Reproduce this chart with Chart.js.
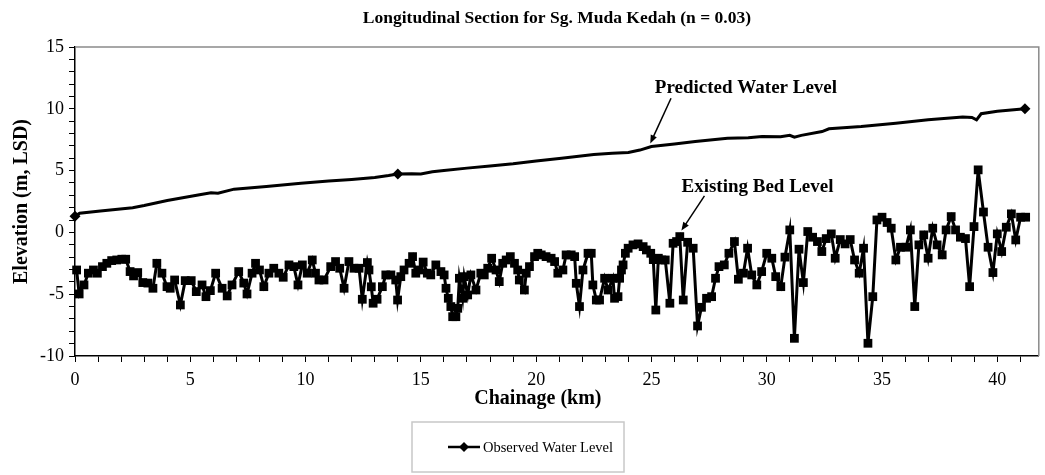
<!DOCTYPE html>
<html>
<head>
<meta charset="utf-8">
<title>Longitudinal Section for Sg. Muda Kedah</title>
<script src="https://cdn.jsdelivr.net/npm/chart.js@4.4.1/dist/chart.umd.min.js"></script>
<style>
  html, body { margin: 0; padding: 0; background: #ffffff; }
  #wrap { width: 1045px; height: 475px; }
</style>
</head>
<body>
<div id="wrap"><canvas id="chart" width="1045" height="475"></canvas></div>
<script>
// Surveyed river bed (chainage in km, elevation in m LSD)
const bedChainage = [
  0.07, 0.18, 0.39, 0.58, 0.80, 0.97, 1.19, 1.38, 1.59, 1.81, 2.03, 2.20, 2.39, 2.54, 2.72, 2.94,
  3.16, 3.38, 3.55, 3.77, 3.99, 4.13, 4.32, 4.57, 4.78, 5.04, 5.26, 5.51, 5.68, 5.87, 6.10, 6.38,
  6.60, 6.81, 7.10, 7.32, 7.46, 7.68, 7.83, 8.00, 8.19, 8.41, 8.62, 8.84, 9.03, 9.28, 9.49, 9.67,
  9.86, 10.07, 10.29, 10.43, 10.58, 10.80, 11.09, 11.30, 11.48, 11.67, 11.88, 12.10, 12.32, 12.46,
  12.68, 12.75, 12.85, 12.93, 13.10, 13.33, 13.48, 13.70, 13.91, 13.99, 14.13, 14.27, 14.49, 14.64,
  14.78, 14.93, 15.10, 15.28, 15.43, 15.65, 15.87, 16.01, 16.09, 16.19, 16.30, 16.38, 16.52, 16.60,
  16.67, 16.81, 16.88, 17.03, 17.17, 17.39, 17.60, 17.75, 17.90, 18.07, 18.26, 18.40, 18.55, 18.70,
  18.88, 19.06, 19.20, 19.27, 19.49, 19.57, 19.71, 19.93, 20.07, 20.22, 20.43, 20.65, 20.80, 20.94,
  21.16, 21.30, 21.52, 21.67, 21.74, 21.88, 22.03, 22.25, 22.39, 22.46, 22.61, 22.75, 22.97, 23.12,
  23.33, 23.40, 23.55, 23.62, 23.70, 23.77, 23.87, 23.99, 24.20, 24.42, 24.64, 24.78, 24.97, 25.08,
  25.19, 25.30, 25.45, 25.60, 25.80, 25.94, 26.09, 26.23, 26.38, 26.57, 26.81, 27.00, 27.17, 27.39,
  27.61, 27.78, 27.93, 28.16, 28.36, 28.60, 28.77, 28.99, 29.17, 29.35, 29.57, 29.78, 30.00, 30.22,
  30.39, 30.61, 30.79, 31.00, 31.20, 31.40, 31.59, 31.78, 31.99, 32.20, 32.39, 32.58, 32.80, 32.97,
  33.19, 33.40, 33.62, 33.81, 34.01, 34.20, 34.39, 34.60, 34.78, 35.00, 35.22, 35.40, 35.60, 35.80,
  36.04, 36.23, 36.42, 36.60, 36.81, 37.00, 37.20, 37.39, 37.61, 37.78, 38.00, 38.19, 38.40, 38.62,
  38.80, 38.99, 39.17, 39.40, 39.60, 39.81, 40.00, 40.19, 40.39, 40.61, 40.80, 41.01, 41.23
];
const bedLevel = [
  -3.04, -4.98, -4.25, -3.30, -3.04, -3.30, -2.77, -2.50, -2.28, -2.23, -2.17, -2.17, -3.17, -3.52, -3.25, -4.06,
  -4.10, -4.52, -2.50, -3.30, -4.39, -4.52, -3.85, -5.87, -3.90, -3.90, -4.79, -4.25, -5.20, -4.71, -3.30, -4.52,
  -5.14, -4.25, -3.17, -4.10, -4.98, -3.30, -2.50, -3.04, -4.39, -3.30, -2.90, -3.30, -3.63, -2.63, -2.77, -4.25,
  -2.63, -3.30, -2.23, -3.30, -3.85, -3.85, -2.77, -2.36, -2.90, -4.52, -2.36, -2.90, -2.90, -5.41,
  -2.44, -3.04, -4.40, -5.73, -5.41, -4.39, -3.44, -3.44, -3.85, -5.47, -3.58, -3.04, -2.50, -1.96,
  -3.30, -3.04, -2.40, -3.30, -3.44, -2.63, -3.17, -3.44, -4.52, -5.33, -6.00, -6.82, -6.82, -6.14,
  -3.71, -5.33, -3.58, -5.06, -3.44, -4.66, -3.30, -3.44, -2.90, -2.09, -3.04, -3.98, -2.50, -2.23,
  -1.96, -2.50, -3.04, -3.85, -4.66, -3.30, -2.77, -1.96, -1.69, -1.82, -1.96, -2.09, -2.36, -3.30,
  -3.04, -1.82, -1.82, -1.96, -4.12, -6.00, -3.04, -1.69, -1.69, -4.25, -5.47, -5.47, -3.71, -4.66,
  -3.71, -5.33, -5.20, -3.71, -3.04, -2.63, -1.69, -1.28, -1.01, -0.93, -1.15, -1.42, -1.69, -2.20,
  -6.28, -2.09, -2.23, -2.23, -5.73, -0.88, -0.74, -0.34, -5.47, -0.80, -1.28, -7.57, -6.06, -5.33,
  -5.20, -3.71, -2.77, -2.63, -1.69, -0.74, -3.79, -3.30, -1.28, -3.44, -4.25, -3.17, -1.69, -2.09,
  -3.58, -4.39, -2.00, 0.20, -8.57, -1.36, -4.06, 0.07, -0.39, -0.74, -1.55, -0.50, -0.12, -2.09,
  -0.58, -0.93, -0.58, -2.23, -3.30, -1.28, -8.97, -5.20, 1.01, 1.23, 0.80, 0.34, -2.23, -1.20,
  -1.20, 0.20, -6.00, -1.01, -0.20, -2.09, 0.34, -1.01, -1.82, 0.20, 1.28, 0.20, -0.39, -0.50,
  -4.39, 0.47, 5.06, 1.65, -1.20, -3.25, -0.12, -1.55, 0.42, 1.50, -0.61, 1.23, 1.23
];

// Computed water surface profile (n = 0.03)
const predChainage = [
  0, 0.2, 1.1, 2.5, 3.0, 4.0, 5.4, 5.9, 6.2, 6.9, 8.3, 9.8, 11, 12, 13, 13.6, 14, 14.6, 15, 15.5,
  16, 17, 18, 19, 20, 21.1, 22.5, 23.3, 24, 24.5, 25, 26, 26.9, 28.3, 29.2, 29.8, 30.6, 31.0, 31.2,
  31.5, 32.4, 32.7, 34.1, 35.6, 37, 38.5, 38.9, 39.1, 39.3, 40, 41.2
];
const predLevel = [
  1.30, 1.55, 1.74, 2.00, 2.17, 2.58, 3.04, 3.20, 3.17, 3.50, 3.71, 3.98, 4.15, 4.28, 4.45, 4.60, 4.72, 4.75, 4.72, 4.90,
  5.00, 5.20, 5.38, 5.55, 5.78, 6.00, 6.30, 6.40, 6.46, 6.66, 6.95, 7.15, 7.35, 7.62, 7.65, 7.76, 7.74, 7.85, 7.70,
  7.85, 8.16, 8.38, 8.57, 8.84, 9.11, 9.33, 9.30, 9.11, 9.60, 9.80, 10.00
];

// Gauged water levels
const obsChainage = [0, 14, 41.2];
const obsLevel = [1.3, 4.72, 10.0];

// Axis ticks (labelled every 5, minor marks every 1)
const xTickValues = [0, 5, 10, 15, 20, 25, 30, 35, 40];
const yTickValues = [-10, -5, 0, 5, 10, 15];

const SERIF = "'Liberation Serif', 'Times New Roman', serif";

const toPoints = (xs, ys) => xs.map((x, i) => ({ x: x, y: ys[i] }));

// Callout labels with arrows, anchored in data units
const callouts = [
  { text: 'Predicted Water Level', at: [29.1, 11.7], from: [25.85, 10.85], to: [24.95, 7.2] },
  { text: 'Existing Bed Level', at: [29.6, 3.65], from: [27.3, 2.95], to: [26.3, 0.15] }
];

const frameAndCallouts = {
  id: 'frameAndCallouts',
  beforeDatasetsDraw(chart) {
    const { ctx, chartArea: a } = chart;
    ctx.save();
    ctx.strokeStyle = '#8a8a8a';
    ctx.lineWidth = 1.5;
    ctx.beginPath();
    ctx.moveTo(a.left, a.top);
    ctx.lineTo(a.right, a.top);
    ctx.lineTo(a.right, a.bottom);
    ctx.stroke();
    ctx.restore();
  },
  afterDatasetsDraw(chart) {
    const { ctx, chartArea: a, scales: { x, y } } = chart;
    ctx.save();
    ctx.fillStyle = '#000';
    ctx.strokeStyle = '#000';
    ctx.font = 'bold 19px ' + SERIF;
    ctx.textAlign = 'center';
    ctx.textBaseline = 'middle';
    callouts.forEach(c => {
      ctx.fillText(c.text, x.getPixelForValue(c.at[0]), y.getPixelForValue(c.at[1]));
      const x0 = x.getPixelForValue(c.from[0]), y0 = y.getPixelForValue(c.from[1]);
      const x1 = x.getPixelForValue(c.to[0]), y1 = y.getPixelForValue(c.to[1]);
      const ang = Math.atan2(y1 - y0, x1 - x0);
      const head = 9, spread = 0.38;
      ctx.lineWidth = 1.5;
      ctx.beginPath();
      ctx.moveTo(x0, y0);
      ctx.lineTo(x1 - Math.cos(ang) * head * 0.8, y1 - Math.sin(ang) * head * 0.8);
      ctx.stroke();
      ctx.beginPath();
      ctx.moveTo(x1, y1);
      ctx.lineTo(x1 - head * Math.cos(ang - spread), y1 - head * Math.sin(ang - spread));
      ctx.lineTo(x1 - head * Math.cos(ang + spread), y1 - head * Math.sin(ang + spread));
      ctx.closePath();
      ctx.fill();
    });
    // Horizontal axis caption, set a little left of the plot centre
    ctx.font = 'bold 20px ' + SERIF;
    ctx.fillText('Chainage (km)', (a.left + a.right) / 2 - 19, a.bottom + 43);
    ctx.restore();
  }
};

// Framed key for the gauged series: line, diamond marker and name
const keyBox = {
  id: 'keyBox',
  afterDraw(chart) {
    const { ctx } = chart;
    const ds = chart.data.datasets[2];
    const box = { left: 412, top: 422, width: 212, height: 50 };
    const cy = box.top + box.height / 2;
    ctx.save();
    ctx.strokeStyle = '#c8c8c8';
    ctx.lineWidth = 1.5;
    ctx.strokeRect(box.left, box.top, box.width, box.height);
    ctx.strokeStyle = '#000';
    ctx.lineWidth = 2.5;
    ctx.beginPath();
    ctx.moveTo(box.left + 36, cy);
    ctx.lineTo(box.left + 68, cy);
    ctx.stroke();
    ctx.fillStyle = '#000';
    const dx = box.left + 52, r = 5;
    ctx.beginPath();
    ctx.moveTo(dx, cy - r);
    ctx.lineTo(dx + r, cy);
    ctx.lineTo(dx, cy + r);
    ctx.lineTo(dx - r, cy);
    ctx.closePath();
    ctx.fill();
    ctx.font = '14.5px ' + SERIF;
    ctx.textAlign = 'left';
    ctx.textBaseline = 'middle';
    ctx.fillText(ds.label, box.left + 71, cy + 1);
    ctx.restore();
  }
};

const everyUnit = (lo, hi) => {
  const out = [];
  for (let v = lo; v <= hi; v++) out.push({ value: v });
  return out;
};

new Chart(document.getElementById('chart'), {
  type: 'scatter',
  data: {
    datasets: [
      {
        label: 'Existing Bed Level',
        data: toPoints(bedChainage, bedLevel),
        showLine: true,
        clip: false,
        borderColor: '#000',
        borderWidth: 3,
        pointStyle: 'rect',
        pointRadius: 6.2,
        pointBackgroundColor: '#000',
        pointBorderWidth: 0,
        tension: 0
      },
      {
        label: 'Predicted Water Level',
        data: toPoints(predChainage, predLevel),
        showLine: true,
        clip: false,
        borderColor: '#000',
        borderWidth: 3,
        pointRadius: 0,
        tension: 0
      },
      {
        label: 'Observed Water Level',
        data: toPoints(obsChainage, obsLevel),
        showLine: false,
        clip: false,
        pointStyle: 'rectRot',
        pointRadius: 5.5,
        pointBackgroundColor: '#000',
        pointBorderColor: '#000',
        pointBorderWidth: 0
      }
    ]
  },
  options: {
    responsive: false,
    animation: false,
    devicePixelRatio: 1,
    layout: { padding: { left: 0, right: 6, top: 0, bottom: 0 } },
    plugins: {
      legend: { display: false },
      tooltip: { enabled: false },
      title: {
        display: true,
        fullSize: false,
        text: 'Longitudinal Section for Sg. Muda Kedah (n = 0.03)',
        color: '#000',
        font: { family: SERIF, size: 17.5, weight: 'bold', lineHeight: 1.2 },
        padding: { top: 8, bottom: 18 }
      }
    },
    scales: {
      x: {
        type: 'linear',
        position: 'bottom',
        min: 0,
        max: 41.8,
        afterBuildTicks: s => { s.ticks = everyUnit(0, 41); },
        afterFit: s => { s.height = 119; },
        ticks: {
          autoSkip: false,
          maxRotation: 0,
          color: '#000',
          padding: 7,
          font: { family: SERIF, size: 18 },
          callback: v => (xTickValues.includes(v) ? String(v) : '')
        },
        grid: { drawOnChartArea: false, drawTicks: true, tickLength: 6, color: '#000', lineWidth: 1 },
        border: { display: true, color: '#000', width: 1.5 }
      },
      y: {
        type: 'linear',
        min: -10,
        max: 15,
        afterBuildTicks: s => { s.ticks = everyUnit(-10, 15); },
        afterFit: s => { s.width = 75; },
        ticks: {
          autoSkip: false,
          color: '#000',
          padding: 5,
          font: { family: SERIF, size: 18 },
          callback: v => (yTickValues.includes(v) ? String(v) : '')
        },
        grid: { drawOnChartArea: false, drawTicks: true, tickLength: 6, color: '#000', lineWidth: 1 },
        border: { display: true, color: '#000', width: 1.5 },
        title: {
          display: true,
          text: 'Elevation (m, LSD)',
          color: '#000',
          font: { family: SERIF, size: 20, weight: 'bold', lineHeight: 1.2 },
          padding: { top: 10, bottom: 0 }
        }
      }
    }
  },
  plugins: [frameAndCallouts, keyBox]
});
</script>
</body>
</html>
